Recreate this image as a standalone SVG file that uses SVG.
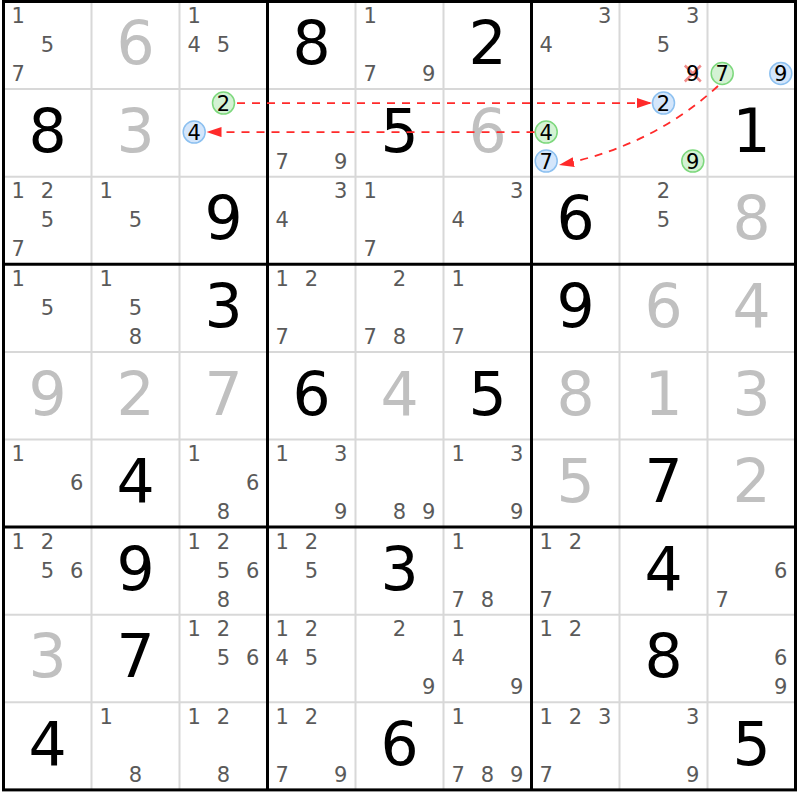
<svg xmlns="http://www.w3.org/2000/svg" width="800" height="800" viewBox="0 0 800 800">
<style>
.c{font-family:"DejaVu Sans",sans-serif;font-size:21px;fill:#5a5a5a;text-anchor:middle}
.k{font-family:"DejaVu Sans",sans-serif;font-size:21px;fill:#000;text-anchor:middle}
.g{font-family:"DejaVu Sans",sans-serif;font-size:60px;fill:#000;text-anchor:middle}
.s{font-family:"DejaVu Sans",sans-serif;font-size:60px;fill:#c0c0c0;text-anchor:middle}
.hg{fill:#d4f2d4;stroke:#7dd87d;stroke-width:1.5}
.hb{fill:#d4e6fb;stroke:#8cc0f0;stroke-width:1.5}
.thin{stroke:#d8d8d8;stroke-width:2}
.thick{stroke:#000;stroke-width:3;fill:none}
.lnk{fill:none;stroke:#ff2a2a;stroke-width:1.8;stroke-dasharray:8 7;marker-end:url(#ah)}
.x{stroke:#f08a8a;stroke-width:2.5}
</style>
<defs>
<marker id="ah" markerUnits="userSpaceOnUse" markerWidth="16" markerHeight="10" refX="15" refY="5" orient="auto">
<path d="M0,0 L15,5 L0,10 z" fill="#ff2a2a"/>
</marker>
</defs>
<rect x="0" y="0" width="800" height="800" fill="#fff"/>
<g id="grid">
<g class="thin">
<line x1="91.5" y1="1.5" x2="91.5" y2="789.9"/><line x1="179.5" y1="1.5" x2="179.5" y2="789.9"/>
<line x1="355.5" y1="1.5" x2="355.5" y2="789.9"/><line x1="443.5" y1="1.5" x2="443.5" y2="789.9"/>
<line x1="619.5" y1="1.5" x2="619.5" y2="789.9"/><line x1="707.5" y1="1.5" x2="707.5" y2="789.9"/>
<line x1="3.5" y1="89.1" x2="795.5" y2="89.1"/><line x1="3.5" y1="176.7" x2="795.5" y2="176.7"/>
<line x1="3.5" y1="351.9" x2="795.5" y2="351.9"/><line x1="3.5" y1="439.5" x2="795.5" y2="439.5"/>
<line x1="3.5" y1="614.7" x2="795.5" y2="614.7"/><line x1="3.5" y1="702.3" x2="795.5" y2="702.3"/>
</g>
<g class="thick">
<line x1="267.5" y1="1.5" x2="267.5" y2="789.9"/><line x1="531.5" y1="1.5" x2="531.5" y2="789.9"/>
<line x1="3.5" y1="264.3" x2="795.5" y2="264.3"/><line x1="3.5" y1="527.1" x2="795.5" y2="527.1"/>
<rect x="3.5" y="1.5" width="792" height="788.4"/>
</g>
</g>
<!-- Row 1 -->
<g id="r1c1" transform="translate(3.5,1.5)"><text class="c" x="14.7" y="21.6">1</text><text class="c" x="44" y="50.6">5</text><text class="c" x="14.7" y="79.6">7</text></g>
<g id="r1c2" transform="translate(91.5,1.5)"><text class="s" x="44" y="62.7">6</text></g>
<g id="r1c3" transform="translate(179.5,1.5)"><text class="c" x="14.7" y="21.6">1</text><text class="c" x="14.7" y="50.6">4</text><text class="c" x="44" y="50.6">5</text></g>
<g id="r1c4" transform="translate(267.5,1.5)"><text class="g" x="44" y="62.7">8</text></g>
<g id="r1c5" transform="translate(355.5,1.5)"><text class="c" x="14.7" y="21.6">1</text><text class="c" x="14.7" y="79.6">7</text><text class="c" x="73.3" y="79.6">9</text></g>
<g id="r1c6" transform="translate(443.5,1.5)"><text class="g" x="44" y="62.7">2</text></g>
<g id="r1c7" transform="translate(531.5,1.5)"><text class="c" x="73.3" y="21.6">3</text><text class="c" x="14.7" y="50.6">4</text></g>
<g id="r1c8" transform="translate(619.5,1.5)"><text class="c" x="73.3" y="21.6">3</text><text class="c" x="44" y="50.6">5</text><line class="x" x1="65.3" y1="64" x2="81.3" y2="80"/><line class="x" x1="81.3" y1="64" x2="65.3" y2="80"/><text class="k" x="73.3" y="79.6">9</text></g>
<g id="r1c9" transform="translate(707.5,1.5)"><circle class="hg" cx="14.7" cy="72" r="11"/><text class="k" x="14.7" y="79.6">7</text><circle class="hb" cx="73.3" cy="72" r="11"/><text class="k" x="73.3" y="79.6">9</text></g>
<!-- Row 2 -->
<g id="r2c1" transform="translate(3.5,89.1)"><text class="g" x="44" y="62.7">8</text></g>
<g id="r2c2" transform="translate(91.5,89.1)"><text class="s" x="44" y="62.7">3</text></g>
<g id="r2c3" transform="translate(179.5,89.1)"><circle class="hg" cx="44" cy="14" r="11"/><text class="k" x="44" y="21.6">2</text><circle class="hb" cx="14.7" cy="43" r="11"/><text class="k" x="14.7" y="50.6">4</text></g>
<g id="r2c4" transform="translate(267.5,89.1)"><text class="c" x="14.7" y="79.6">7</text><text class="c" x="73.3" y="79.6">9</text></g>
<g id="r2c5" transform="translate(355.5,89.1)"><text class="g" x="44" y="62.7">5</text></g>
<g id="r2c6" transform="translate(443.5,89.1)"><text class="s" x="44" y="62.7">6</text></g>
<g id="r2c7" transform="translate(531.5,89.1)"><circle class="hg" cx="14.7" cy="43" r="11"/><text class="k" x="14.7" y="50.6">4</text><circle class="hb" cx="14.7" cy="72" r="11"/><text class="k" x="14.7" y="79.6">7</text></g>
<g id="r2c8" transform="translate(619.5,89.1)"><circle class="hb" cx="44" cy="14" r="11"/><text class="k" x="44" y="21.6">2</text><circle class="hg" cx="73.3" cy="72" r="11"/><text class="k" x="73.3" y="79.6">9</text></g>
<g id="r2c9" transform="translate(707.5,89.1)"><text class="g" x="44" y="62.7">1</text></g>
<!-- Row 3 -->
<g id="r3c1" transform="translate(3.5,176.7)"><text class="c" x="14.7" y="21.6">1</text><text class="c" x="44" y="21.6">2</text><text class="c" x="44" y="50.6">5</text><text class="c" x="14.7" y="79.6">7</text></g>
<g id="r3c2" transform="translate(91.5,176.7)"><text class="c" x="14.7" y="21.6">1</text><text class="c" x="44" y="50.6">5</text></g>
<g id="r3c3" transform="translate(179.5,176.7)"><text class="g" x="44" y="62.7">9</text></g>
<g id="r3c4" transform="translate(267.5,176.7)"><text class="c" x="73.3" y="21.6">3</text><text class="c" x="14.7" y="50.6">4</text></g>
<g id="r3c5" transform="translate(355.5,176.7)"><text class="c" x="14.7" y="21.6">1</text><text class="c" x="14.7" y="79.6">7</text></g>
<g id="r3c6" transform="translate(443.5,176.7)"><text class="c" x="73.3" y="21.6">3</text><text class="c" x="14.7" y="50.6">4</text></g>
<g id="r3c7" transform="translate(531.5,176.7)"><text class="g" x="44" y="62.7">6</text></g>
<g id="r3c8" transform="translate(619.5,176.7)"><text class="c" x="44" y="21.6">2</text><text class="c" x="44" y="50.6">5</text></g>
<g id="r3c9" transform="translate(707.5,176.7)"><text class="s" x="44" y="62.7">8</text></g>
<!-- Row 4 -->
<g id="r4c1" transform="translate(3.5,264.3)"><text class="c" x="14.7" y="21.6">1</text><text class="c" x="44" y="50.6">5</text></g>
<g id="r4c2" transform="translate(91.5,264.3)"><text class="c" x="14.7" y="21.6">1</text><text class="c" x="44" y="50.6">5</text><text class="c" x="44" y="79.6">8</text></g>
<g id="r4c3" transform="translate(179.5,264.3)"><text class="g" x="44" y="62.7">3</text></g>
<g id="r4c4" transform="translate(267.5,264.3)"><text class="c" x="14.7" y="21.6">1</text><text class="c" x="44" y="21.6">2</text><text class="c" x="14.7" y="79.6">7</text></g>
<g id="r4c5" transform="translate(355.5,264.3)"><text class="c" x="44" y="21.6">2</text><text class="c" x="14.7" y="79.6">7</text><text class="c" x="44" y="79.6">8</text></g>
<g id="r4c6" transform="translate(443.5,264.3)"><text class="c" x="14.7" y="21.6">1</text><text class="c" x="14.7" y="79.6">7</text></g>
<g id="r4c7" transform="translate(531.5,264.3)"><text class="g" x="44" y="62.7">9</text></g>
<g id="r4c8" transform="translate(619.5,264.3)"><text class="s" x="44" y="62.7">6</text></g>
<g id="r4c9" transform="translate(707.5,264.3)"><text class="s" x="44" y="62.7">4</text></g>
<!-- Row 5 -->
<g id="r5c1" transform="translate(3.5,351.9)"><text class="s" x="44" y="62.7">9</text></g>
<g id="r5c2" transform="translate(91.5,351.9)"><text class="s" x="44" y="62.7">2</text></g>
<g id="r5c3" transform="translate(179.5,351.9)"><text class="s" x="44" y="62.7">7</text></g>
<g id="r5c4" transform="translate(267.5,351.9)"><text class="g" x="44" y="62.7">6</text></g>
<g id="r5c5" transform="translate(355.5,351.9)"><text class="s" x="44" y="62.7">4</text></g>
<g id="r5c6" transform="translate(443.5,351.9)"><text class="g" x="44" y="62.7">5</text></g>
<g id="r5c7" transform="translate(531.5,351.9)"><text class="s" x="44" y="62.7">8</text></g>
<g id="r5c8" transform="translate(619.5,351.9)"><text class="s" x="44" y="62.7">1</text></g>
<g id="r5c9" transform="translate(707.5,351.9)"><text class="s" x="44" y="62.7">3</text></g>
<!-- Row 6 -->
<g id="r6c1" transform="translate(3.5,439.5)"><text class="c" x="14.7" y="21.6">1</text><text class="c" x="73.3" y="50.6">6</text></g>
<g id="r6c2" transform="translate(91.5,439.5)"><text class="g" x="44" y="62.7">4</text></g>
<g id="r6c3" transform="translate(179.5,439.5)"><text class="c" x="14.7" y="21.6">1</text><text class="c" x="73.3" y="50.6">6</text><text class="c" x="44" y="79.6">8</text></g>
<g id="r6c4" transform="translate(267.5,439.5)"><text class="c" x="14.7" y="21.6">1</text><text class="c" x="73.3" y="21.6">3</text><text class="c" x="73.3" y="79.6">9</text></g>
<g id="r6c5" transform="translate(355.5,439.5)"><text class="c" x="44" y="79.6">8</text><text class="c" x="73.3" y="79.6">9</text></g>
<g id="r6c6" transform="translate(443.5,439.5)"><text class="c" x="14.7" y="21.6">1</text><text class="c" x="73.3" y="21.6">3</text><text class="c" x="73.3" y="79.6">9</text></g>
<g id="r6c7" transform="translate(531.5,439.5)"><text class="s" x="44" y="62.7">5</text></g>
<g id="r6c8" transform="translate(619.5,439.5)"><text class="g" x="44" y="62.7">7</text></g>
<g id="r6c9" transform="translate(707.5,439.5)"><text class="s" x="44" y="62.7">2</text></g>
<!-- Row 7 -->
<g id="r7c1" transform="translate(3.5,527.1)"><text class="c" x="14.7" y="21.6">1</text><text class="c" x="44" y="21.6">2</text><text class="c" x="44" y="50.6">5</text><text class="c" x="73.3" y="50.6">6</text></g>
<g id="r7c2" transform="translate(91.5,527.1)"><text class="g" x="44" y="62.7">9</text></g>
<g id="r7c3" transform="translate(179.5,527.1)"><text class="c" x="14.7" y="21.6">1</text><text class="c" x="44" y="21.6">2</text><text class="c" x="44" y="50.6">5</text><text class="c" x="73.3" y="50.6">6</text><text class="c" x="44" y="79.6">8</text></g>
<g id="r7c4" transform="translate(267.5,527.1)"><text class="c" x="14.7" y="21.6">1</text><text class="c" x="44" y="21.6">2</text><text class="c" x="44" y="50.6">5</text></g>
<g id="r7c5" transform="translate(355.5,527.1)"><text class="g" x="44" y="62.7">3</text></g>
<g id="r7c6" transform="translate(443.5,527.1)"><text class="c" x="14.7" y="21.6">1</text><text class="c" x="14.7" y="79.6">7</text><text class="c" x="44" y="79.6">8</text></g>
<g id="r7c7" transform="translate(531.5,527.1)"><text class="c" x="14.7" y="21.6">1</text><text class="c" x="44" y="21.6">2</text><text class="c" x="14.7" y="79.6">7</text></g>
<g id="r7c8" transform="translate(619.5,527.1)"><text class="g" x="44" y="62.7">4</text></g>
<g id="r7c9" transform="translate(707.5,527.1)"><text class="c" x="73.3" y="50.6">6</text><text class="c" x="14.7" y="79.6">7</text></g>
<!-- Row 8 -->
<g id="r8c1" transform="translate(3.5,614.7)"><text class="s" x="44" y="62.7">3</text></g>
<g id="r8c2" transform="translate(91.5,614.7)"><text class="g" x="44" y="62.7">7</text></g>
<g id="r8c3" transform="translate(179.5,614.7)"><text class="c" x="14.7" y="21.6">1</text><text class="c" x="44" y="21.6">2</text><text class="c" x="44" y="50.6">5</text><text class="c" x="73.3" y="50.6">6</text></g>
<g id="r8c4" transform="translate(267.5,614.7)"><text class="c" x="14.7" y="21.6">1</text><text class="c" x="44" y="21.6">2</text><text class="c" x="14.7" y="50.6">4</text><text class="c" x="44" y="50.6">5</text></g>
<g id="r8c5" transform="translate(355.5,614.7)"><text class="c" x="44" y="21.6">2</text><text class="c" x="73.3" y="79.6">9</text></g>
<g id="r8c6" transform="translate(443.5,614.7)"><text class="c" x="14.7" y="21.6">1</text><text class="c" x="14.7" y="50.6">4</text><text class="c" x="73.3" y="79.6">9</text></g>
<g id="r8c7" transform="translate(531.5,614.7)"><text class="c" x="14.7" y="21.6">1</text><text class="c" x="44" y="21.6">2</text></g>
<g id="r8c8" transform="translate(619.5,614.7)"><text class="g" x="44" y="62.7">8</text></g>
<g id="r8c9" transform="translate(707.5,614.7)"><text class="c" x="73.3" y="50.6">6</text><text class="c" x="73.3" y="79.6">9</text></g>
<!-- Row 9 -->
<g id="r9c1" transform="translate(3.5,702.3)"><text class="g" x="44" y="62.7">4</text></g>
<g id="r9c2" transform="translate(91.5,702.3)"><text class="c" x="14.7" y="21.6">1</text><text class="c" x="44" y="79.6">8</text></g>
<g id="r9c3" transform="translate(179.5,702.3)"><text class="c" x="14.7" y="21.6">1</text><text class="c" x="44" y="21.6">2</text><text class="c" x="44" y="79.6">8</text></g>
<g id="r9c4" transform="translate(267.5,702.3)"><text class="c" x="14.7" y="21.6">1</text><text class="c" x="44" y="21.6">2</text><text class="c" x="14.7" y="79.6">7</text><text class="c" x="73.3" y="79.6">9</text></g>
<g id="r9c5" transform="translate(355.5,702.3)"><text class="g" x="44" y="62.7">6</text></g>
<g id="r9c6" transform="translate(443.5,702.3)"><text class="c" x="14.7" y="21.6">1</text><text class="c" x="14.7" y="79.6">7</text><text class="c" x="44" y="79.6">8</text><text class="c" x="73.3" y="79.6">9</text></g>
<g id="r9c7" transform="translate(531.5,702.3)"><text class="c" x="14.7" y="21.6">1</text><text class="c" x="44" y="21.6">2</text><text class="c" x="73.3" y="21.6">3</text><text class="c" x="14.7" y="79.6">7</text></g>
<g id="r9c8" transform="translate(619.5,702.3)"><text class="c" x="73.3" y="21.6">3</text><text class="c" x="73.3" y="79.6">9</text></g>
<g id="r9c9" transform="translate(707.5,702.3)"><text class="g" x="44" y="62.7">5</text></g>
<!-- Connectors -->
<g id="links">
<path class="lnk" d="M237,103.1 L652,103.1"/>
<path class="lnk" d="M534.5,132.1 L206.5,132.1"/>
<path class="lnk" d="M718,86 Q652.4,146.3 559,165"/>
</g>
</svg>
